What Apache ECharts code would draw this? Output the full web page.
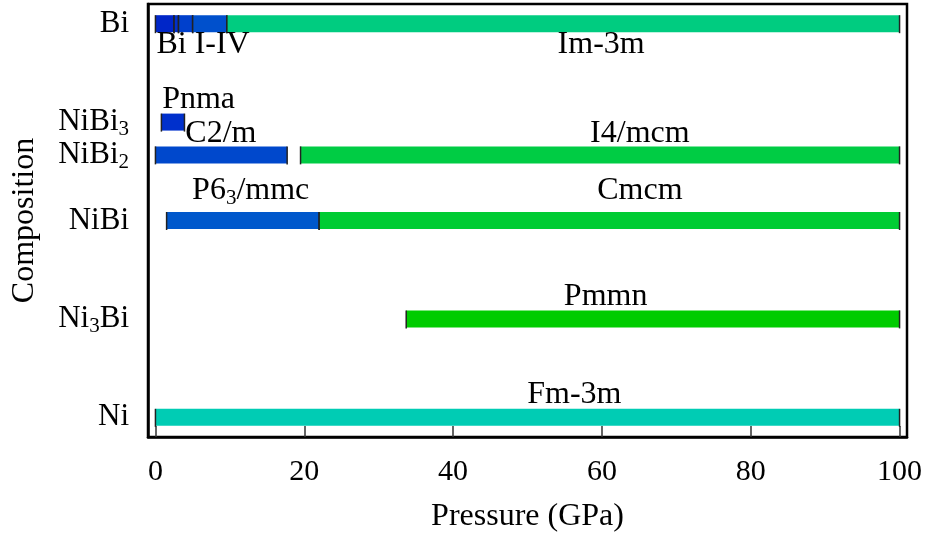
<!DOCTYPE html>
<html><head><meta charset="utf-8">
<script src="https://cdn.jsdelivr.net/npm/echarts@6/dist/echarts.min.js"></script>
<style>html,body{margin:0;padding:0;background:#fff}#c{width:930px;height:534px}</style>
</head><body><div id="c"></div>
<script>
// compositions (y positions = Bi fraction)
const compositionLabels = ['{a|Ni}', '{a|Ni}{s|3}{a|Bi}', '{a|NiBi}', '{a|NiBi}{s|2}', '{a|NiBi}{s|3}', '{a|Bi}'];
const bismuthFraction = [0, 0.25, 0.5, 0.6667, 0.75, 1];

// phase segments
const segComposition = [5, 5, 5, 5, 5, 4, 3, 3, 2, 2, 1, 0];
const segStart = [0, 2.5, 3.1, 5.0, 9.6, 0.8, 0, 19.5, 1.5, 22.0, 33.7, 0];
const segEnd   = [2.5, 3.1, 5.0, 9.6, 100, 3.9, 17.7, 100, 22.0, 100, 100, 100];
const segColor = ['#0026c8', '#0030cc', '#0040cc', '#0050cc', '#00cc80', '#0030cc', '#0048cc', '#00cc44', '#0058cc', '#00cc33', '#00cc00', '#00ccb4'];

// phase names and their anchor points
const phaseLabels = ['{a|Bi I-IV}', '{a|Im-3m}', '{a|Pnma}', '{a|C2/m}', '{a|I4/mcm}', '{a|P6}{s|3}{a|/mmc}', '{a|Cmcm}', '{a|Pmmn}', '{a|Fm-3m}'];
const labelPressure = [6.4, 59.9, 5.8, 8.8, 65.1, 12.8, 65.1, 60.5, 56.3];
const labelComposition = [0.946, 0.946, 0.806, 0.722, 0.722, 0.575, 0.575, 0.306, 0.057];

const xTicks = [0, 20, 40, 60, 80, 100];

const FONT = 'Liberation Serif';
const FS = 32;
const rich = {
  a: { fontFamily: FONT, fontSize: FS, color: '#000' },
  s: { fontFamily: FONT, fontSize: 21, color: '#000', padding: [15, 0, 0, 0] }
};
const richY = {
  a: { fontFamily: FONT, fontSize: 31, color: '#000' },
  s: { fontFamily: FONT, fontSize: 21, color: '#000', padding: [15, 0, 0, 0] }
};

const segData = segStart.map((s, i) => [s, segEnd[i], bismuthFraction[segComposition[i]], i]);
const labData = phaseLabels.map((t, i) => [labelPressure[i], labelComposition[i], i]);

const chart = echarts.init(document.getElementById('c'));
chart.setOption({
  animation: false,
  grid: { left: 148, right: 23, top: 4, bottom: 97, containLabel: false, outerBoundsMode: 'none', show: true, borderColor: '#000', borderWidth: 2.5, backgroundColor: 'transparent' },
  xAxis: {
    type: 'value', min: -1, max: 101,
    name: 'Pressure (GPa)', nameLocation: 'middle', nameGap: 64,
    nameTextStyle: { fontFamily: FONT, fontSize: FS, color: '#000' },
    axisLine: { show: true, onZero: false, lineStyle: { color: '#000', width: 2.5 } },
    axisTick: { show: true, inside: true, length: 11, customValues: xTicks, lineStyle: { color: '#333', width: 1.5 } },
    axisLabel: { customValues: xTicks, fontFamily: FONT, fontSize: 30, color: '#000', margin: 20 },
    splitLine: { show: false }
  },
  yAxis: {
    type: 'value', min: -0.05, max: 1.05,
    name: 'Composition', nameLocation: 'middle', nameGap: 107, nameRotate: 90,
    nameTextStyle: { fontFamily: FONT, fontSize: FS, color: '#000' },
    axisLine: { show: true, onZero: false, lineStyle: { color: '#000', width: 2.5 } },
    axisTick: { show: false },
    axisLabel: {
      customValues: bismuthFraction, margin: 19,
      formatter: v => { const k = bismuthFraction.findIndex(b => Math.abs(b - v) < 1e-3); return k >= 0 ? compositionLabels[k] : ''; },
      rich: richY
    },
    splitLine: { show: false }
  },
  series: [
    {
      type: 'custom',
      data: segData,
      renderItem: (params, api) => {
        const a = api.coord([api.value(0), api.value(2)]);
        const b = api.coord([api.value(1), api.value(2)]);
        const h = 17;
        const col = segColor[api.value(3)];
        return {
          type: 'group',
          children: [
            { type: 'rect', shape: { x: a[0], y: a[1] - h / 2, width: b[0] - a[0], height: h }, style: { fill: col } },
            { type: 'line', shape: { x1: a[0], y1: a[1] - h / 2, x2: a[0], y2: a[1] + h / 2 + 1 }, style: { stroke: '#222', lineWidth: 1.5 } },
            { type: 'line', shape: { x1: b[0], y1: b[1] - h / 2, x2: b[0], y2: b[1] + h / 2 + 1 }, style: { stroke: '#222', lineWidth: 1.5 } }
          ]
        };
      }
    },
    {
      type: 'custom',
      data: labData,
      renderItem: (params, api) => {
        const p = api.coord([api.value(0), api.value(1)]);
        return {
          type: 'text', x: p[0], y: p[1],
          style: { text: phaseLabels[api.value(2)], rich: rich, align: 'center', verticalAlign: 'middle', fontFamily: FONT, fontSize: FS }
        };
      }
    }
  ]
});
</script></body></html>
